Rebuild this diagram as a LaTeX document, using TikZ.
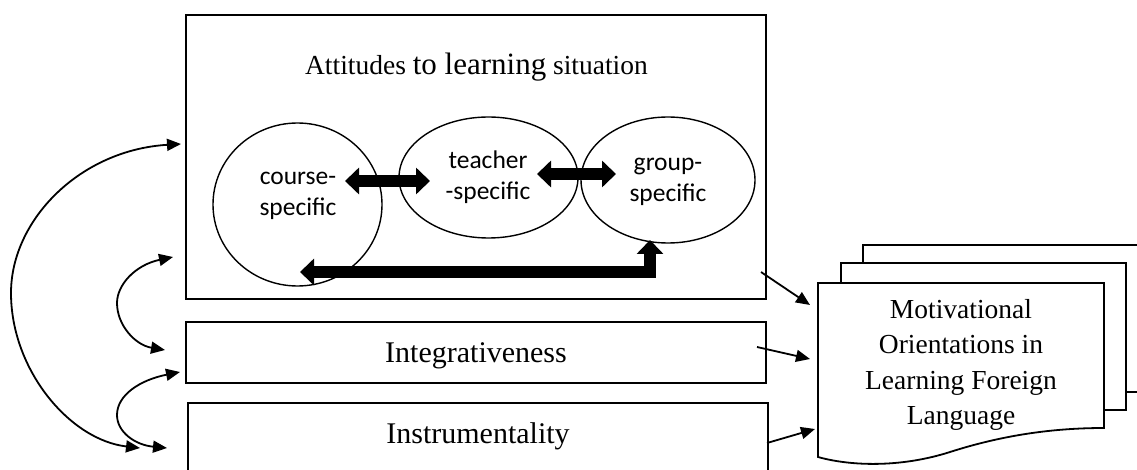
\documentclass[tikz,border=0pt]{standalone}
\usepackage{fontspec}
\setmainfont{Liberation Serif}
\newfontfamily\calfont{Carlito}
\usetikzlibrary{arrows.meta,shapes.geometric}
\begin{document}
\begin{tikzpicture}[x=1pt,y=-1pt,line join=miter,
  box/.style={draw,line width=1.8pt,inner sep=0pt,outer sep=0pt,rectangle},
  bub/.style={draw,line width=1.4pt,ellipse,inner sep=0pt,outer sep=0pt},
  page/.style={draw,fill=white,line width=1.8pt},
  lbl/.style={font=\calfont\fontsize{25.5}{31}\selectfont,align=center,inner sep=0pt},
  big/.style={font=\fontsize{30}{34}\selectfont,inner sep=0pt,anchor=base},
  conn/.style={line width=1.8pt,{Triangle[length=14pt,width=12pt]}-{Triangle[length=14pt,width=12pt]}},
  one/.style={line width=1.8pt,-{Triangle[length=14pt,width=12pt]}},
  fat/.style={line width=12pt,{Triangle[length=14pt,width=26pt]}-{Triangle[length=14pt,width=26pt]}},
]
\useasboundingbox (0,0) rectangle (1137,470);
\clip (0,0) rectangle (1137,470);

% boxes
\node[box,minimum width=580pt,minimum height=284pt] (main) at (476,157) {};
\node[box,minimum width=580pt,minimum height=61pt] (integ) at (476,352.5) {};
\node[box,minimum width=580pt,minimum height=72pt] (instr) at (478,439) {};

\node[inner sep=0pt,anchor=base] (title) at (476.5,75)
  {\fontsize{27.5}{30}\selectfont Attitudes {\fontsize{31}{30}\selectfont to learning} situation};
\node[big] (tinteg) at (476,362) {Integrativeness};
\node[big] (tinstr) at (478,443) {Instrumentality};

% ellipses
\node[bub,minimum width=169pt,minimum height=163pt] (course) at (297.5,204.5) {};
\node[bub,minimum width=179pt,minimum height=121pt] (teacher) at (488.5,177.5) {};
\node[bub,minimum width=174pt,minimum height=126pt] (group) at (668,180) {};
\node[lbl] (tcourse) at (298,196) {course-\\specific};
\node[lbl] (tteacher) at (488,177) {teacher\\-specific};
\node[lbl] (tgroup) at (668,182) {group-\\specific};

% thick arrows
\draw[fat] ([shift={(47.5,-23.5)}]course.center) -- ([shift={(-58.5,3.5)}]teacher.center);
\draw[fat] ([shift={(48.5,-3.5)}]teacher.center) -- ([shift={(-52,-6)}]group.center);
\draw[fat] ([shift={(2.5,67.5)}]course.center) -| ([shift={(-18,60)}]group.center);

% document stack
\draw[page] (863,245) rectangle (1170,392);
\draw[page] (841,263) rectangle (1126,410);
\node[minimum width=286pt,minimum height=174pt,inner sep=0pt,outer sep=0pt] (doc) at (961,370) {};
\draw[page] (doc.north west) -- (doc.north east) -- (1104,428)
  .. controls (1050,428) and (1000,436) .. (950,452)
  .. controls (900,468) and (850,466) .. (doc.south west) -- cycle;
\node[align=center,inner sep=0pt,font=\fontsize{27.5}{35.5}\selectfont] (tdoc) at (961,365)
  {Motivational\\Orientations in\\Learning Foreign\\Language};

% arrows to document
\draw[one] ([shift={(-5,115)}]main.east) -- ([shift={(-8,-65)}]doc.west);
\draw[one] ([shift={(-9,-5.5)}]integ.east) -- ([shift={(-8,-11)}]doc.west);
\draw[one] ([shift={(-1,4)}]instr.east) -- ([shift={(-3,59)}]doc.west);

% left curved arrows
\draw[conn] ([shift={(-5,-13)}]main.west)
  .. controls (80,150) and (11,220) .. (11,293)
  .. controls (11,370) and (70,440) .. ([shift={(-48,9)}]instr.west);
\draw[conn] ([shift={(-13,100)}]main.west)
  .. controls (135,265) and (117,285) .. (117,303)
  .. controls (117,325) and (135,345) .. ([shift={(-21,-2.5)}]integ.west);
\draw[conn] ([shift={(-6,19.5)}]integ.west)
  .. controls (140,380) and (117,395) .. (117,415)
  .. controls (117,432) and (135,445) .. ([shift={(-21,9)}]instr.west);
\end{tikzpicture}
\end{document}
